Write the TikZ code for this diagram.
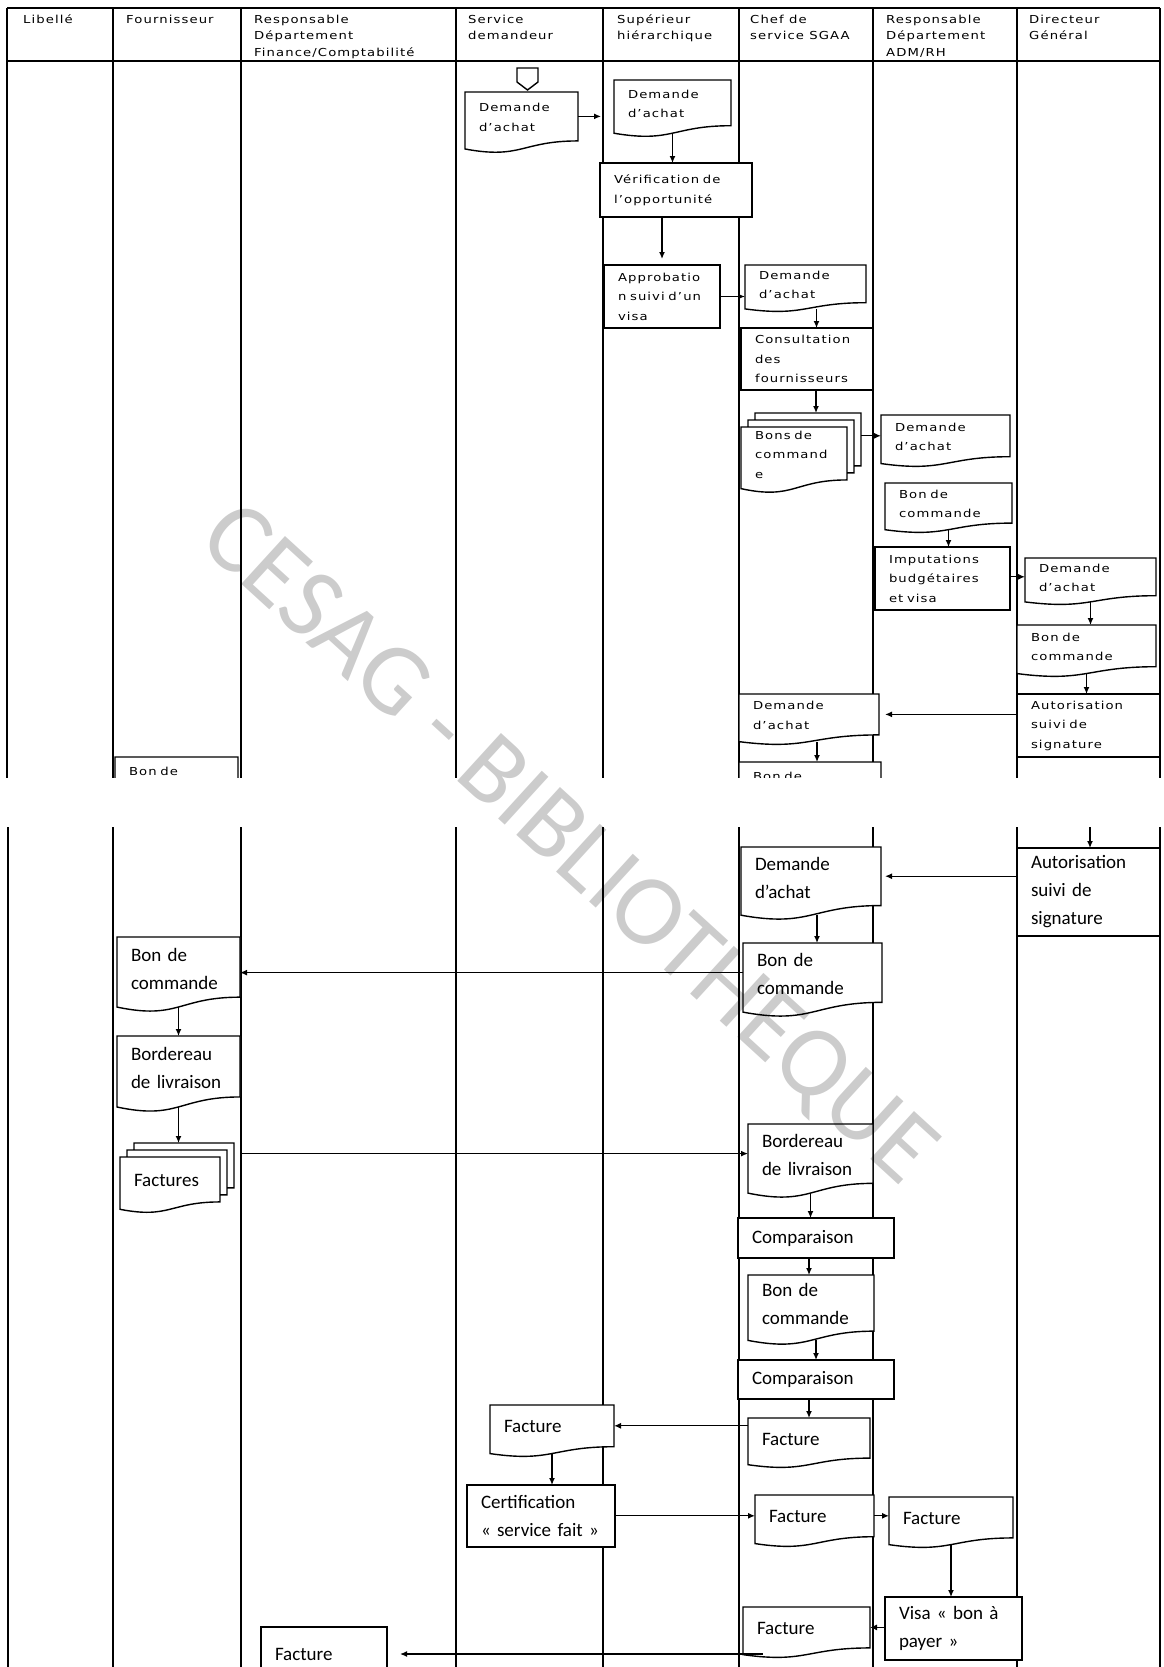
\documentclass[tikz,border=0pt]{standalone}
\usepackage{fontspec}
\usetikzlibrary{arrows.meta,calc}
\newfontfamily\topfont[FakeStretch=1.2,LetterSpace=10]{DejaVu Sans}
\newfontfamily\botfont{Carlito}

\makeatletter
% registers for the document-shaped nodes
\newdimen\dsL \newdimen\dsR \newdimen\dsT \newdimen\dsB
\newdimen\dsM \newdimen\dsH \newdimen\dsYr \newdimen\dsYc \newdimen\dsYl
\newdimen\mdoff \mdoff=7pt
\newdimen\mdofftwo \mdofftwo=14pt
\def\ds@box{%
  \southwest \dsL=\pgf@x \dsB=\pgf@y
  \northeast \dsR=\pgf@x \dsT=\pgf@y
  \dsH=\dsT \advance\dsH by -\dsB
  \dsM=.5\dsL \advance\dsM by .5\dsR
  \dsYr=.198\dsH \advance\dsYr by \dsB
  \dsYc=-.1075\dsH \advance\dsYc by \dsB
  \dsYl=.066\dsH \advance\dsYl by \dsB}
\def\ds@outline{%
  \pgfpathmoveto{\pgfqpoint{\dsL}{\dsT}}%
  \pgfpathlineto{\pgfqpoint{\dsR}{\dsT}}%
  \pgfpathlineto{\pgfqpoint{\dsR}{\dsYr}}%
  \pgfpathcurveto{\pgfqpoint{\dsM}{\dsYr}}{\pgfqpoint{\dsM}{\dsYc}}{\pgfqpoint{\dsL}{\dsYl}}%
  \pgfpathclose}
\def\ds@anchors{%
  \inheritsavedanchors[from=rectangle]%
  \inheritanchorborder[from=rectangle]%
  \inheritanchor[from=rectangle]{center}%
  \inheritanchor[from=rectangle]{north}%
  \inheritanchor[from=rectangle]{south}%
  \inheritanchor[from=rectangle]{east}%
  \inheritanchor[from=rectangle]{west}%
  \inheritanchor[from=rectangle]{north east}%
  \inheritanchor[from=rectangle]{north west}%
  \inheritanchor[from=rectangle]{south east}%
  \inheritanchor[from=rectangle]{south west}%
  \anchor{text}{\ds@box \pgf@x=0pt \pgf@y=.08\dsH}%
  \anchor{wr}{\ds@box \pgf@x=\dsR \pgf@y=.6\dsT \advance\pgf@y by .4\dsB}%
  \anchor{wl}{\ds@box \pgf@x=\dsL \pgf@y=.6\dsT \advance\pgf@y by .4\dsB}%
  \anchor{wb}{\ds@box \pgf@x=\dsM \pgf@y=.067\dsH \advance\pgf@y by \dsB}}
% single document
\pgfdeclareshape{docshape}{%
  \ds@anchors
  \backgroundpath{\ds@box \ds@outline}%
}
% stacked documents: two sheets behind, offset up and right
\pgfdeclareshape{multidocshape}{%
  \ds@anchors
  \backgroundpath{%
    \ds@box \ds@outline
    \pgfpathmoveto{\pgfpointadd{\pgfqpoint{\dsL}{\dsT}}{\pgfqpoint{\mdoff}{0pt}}}%
    \pgfpathlineto{\pgfpointadd{\pgfqpoint{\dsL}{\dsT}}{\pgfqpoint{\mdoff}{\mdoff}}}%
    \pgfpathlineto{\pgfpointadd{\pgfqpoint{\dsR}{\dsT}}{\pgfqpoint{\mdoff}{\mdoff}}}%
    \pgfpathlineto{\pgfpointadd{\pgfqpoint{\dsR}{\dsYr}}{\pgfqpoint{\mdoff}{\mdoff}}}%
    \pgfpathlineto{\pgfpointadd{\pgfqpoint{\dsR}{\dsYr}}{\pgfqpoint{0pt}{\mdoff}}}%
    \pgfpathmoveto{\pgfpointadd{\pgfqpoint{\dsL}{\dsT}}{\pgfqpoint{\mdofftwo}{\mdoff}}}%
    \pgfpathlineto{\pgfpointadd{\pgfqpoint{\dsL}{\dsT}}{\pgfqpoint{\mdofftwo}{\mdofftwo}}}%
    \pgfpathlineto{\pgfpointadd{\pgfqpoint{\dsR}{\dsT}}{\pgfqpoint{\mdofftwo}{\mdofftwo}}}%
    \pgfpathlineto{\pgfpointadd{\pgfqpoint{\dsR}{\dsYr}}{\pgfqpoint{\mdofftwo}{\mdofftwo}}}%
    \pgfpathlineto{\pgfpointadd{\pgfqpoint{\dsR}{\dsYr}}{\pgfqpoint{\mdoff}{\mdofftwo}}}%
  }%
}
\makeatother

\tikzset{
  lane/.style={line width=1.5pt},
  hdrline/.style={line width=2.8pt},
  shp/.style={draw, line width=1.4pt, fill=white, outer sep=0pt,
    inner xsep=14pt, inner ysep=2pt, align=left, anchor=north west},
  proc/.style={shp, shape=rectangle},
  doc/.style={shp, shape=docshape},
  mdoc/.style={shp, shape=multidocshape},
  sz/.style 2 args={minimum width=#1pt, minimum height=#2pt,
    /utils/exec={\pgfmathsetmacro\tw{#1-28}}, text width=\tw pt},
  ts/.style={font=\topfont\fontsize{11}{19.5}\selectfont},
  tb/.style={font=\botfont\fontsize{19}{28}\selectfont},
  hdr/.style={anchor=north west, inner sep=0pt, align=left,
    font=\topfont\fontsize{11}{16.5}\selectfont},
  flow/.style={draw, line width=1.3pt, -{Latex[length=7pt,width=6pt]}},
  wmark/.style={rotate=-42.4, inner sep=0pt, text=black, opacity=.2,
    font=\botfont\fontsize{101}{101}\selectfont},
}

\begin{document}
\begin{tikzpicture}[x=1pt,y=-1pt]
\useasboundingbox (0,0) rectangle (1163,1667);
\fill[white] (0,0) rectangle (1163,1667);

% ---------------- first page of the chart ----------------
\begin{scope}
\clip (0,0) rectangle (1163,777);
\draw[lane] (7,8) -- (1160,8);
\draw[hdrline] (7,61) -- (1160,61);
\foreach \x in {7,113,241,456,603,739,873,1017,1160}
  \draw[lane] (\x,8) -- (\x,790);

\node[hdr] (hLib)  at (23,14.5)   {Libellé};
\node[hdr] (hFou)  at (126,14.5)  {Fournisseur};
\node[hdr] (hFin)  at (254,14.5)  {Responsable\\Département\\Finance/Comptabilité};
\node[hdr] (hSD)   at (468,14.5)  {Service\\demandeur};
\node[hdr] (hSup)  at (617,14.5)  {Supérieur\\hiérarchique};
\node[hdr] (hChef) at (750,14.5)  {Chef de\\service SGAA};
\node[hdr] (hAdm)  at (886,14.5)  {Responsable\\Département\\ADM/RH};
\node[hdr] (hDG)   at (1029,14.5) {Directeur\\Général};

% off-page connector
\draw[line width=1.4pt, fill=white] (517,68) -- (538,68) -- (538,82) -- (527.5,90) -- (517,82) -- cycle;

\node[doc,ts,sz={113}{61}]  (sdDA)    at (465,92)   {Demande\\d’achat};
\node[doc,ts,sz={117}{57}]  (supDA)   at (614,80)   {Demande\\d’achat};
\node[proc,ts,sz={152}{54}] (verif)   at (600,163)  {Vérification de\\l’opportunité};
\node[proc,ts,sz={116}{63}] (approb)  at (604,265)  {Approbatio\\n suivi d’un\\visa};
\node[doc,ts,sz={121}{47}]  (chefDA)  at (745,265)  {Demande\\d’achat};
\node[proc,ts,sz={132}{62}] (consult) at (741,328)  {Consultation\\des\\fournisseurs};
\node[mdoc,ts,sz={106}{66}] (bons)    at (741,427)  {Bons de\\command\\e};
\node[doc,ts,sz={129}{52}]  (admDA)   at (881,415)  {Demande\\d’achat};
\node[doc,ts,sz={127}{50}]  (admBC)   at (885,483)  {Bon de\\commande};
\node[proc,ts,sz={135}{63}] (imput)   at (875,547)  {Imputations\\budgétaires\\et visa};
\node[doc,ts,sz={131}{47}]  (dgDA)    at (1025,558) {Demande\\d’achat};
\node[doc,ts,sz={139}{52}]  (dgBC)    at (1017,625) {Bon de\\commande};
\node[proc,ts,sz={143}{63}] (autorA)  at (1017,694) {Autorisation\\suivi de\\signature};
\node[doc,ts,sz={140}{51}]  (chefDB)  at (739,694)  {Demande\\d’achat};
\node[doc,ts,sz={142}{58}]  (chefBA)  at (739,762)  {Bon de\\commande};
\node[doc,ts,sz={123}{58}]  (fouBA)   at (115,757)  {Bon de\\commande};

\draw[flow, shorten >=13pt] (sdDA.wr) -- (supDA.wl |- sdDA.wr);
\draw[flow] (supDA.wb) -- (supDA.wb |- verif.north);
\draw[flow, shorten >=6pt] (approb.north |- verif.south) -- (approb.north);
\draw[flow] (approb.east) -- (approb.east -| chefDA.west);
\draw[flow] ($(chefDA.wb)+(11,0)$) -- ($(chefDA.wb |- consult.north)+(11,0)$);
\draw[flow, shorten >=14pt] ($(consult.south)+(9,0)$) -- ($(consult.south |- bons.north)+(9,0)$);
\draw[flow] ($(bons.east |- admDA.wl)+(14,0)$) -- (admDA.wl);
\draw[flow] (admBC.wb) -- (admBC.wb |- imput.north);
\draw[flow] (imput.east |- dgDA.wl) -- (dgDA.wl);
\draw[flow] (dgDA.wb) -- (dgDA.wb |- dgBC.north);
\draw[flow] (dgBC.wb) -- (dgBC.wb |- autorA.north);
\draw[flow, shorten >=6pt] (autorA.west |- chefDB.wr) -- (chefDB.wr);
\draw[flow] ($(chefDB.wb)+(8,0)$) -- ($(chefDB.wb |- chefBA.north)+(8,0)$);
\end{scope}

% ---------------- second page of the chart ----------------
\begin{scope}
\clip (0,800) rectangle (1163,1667);
\foreach \x in {8,113,241,456,603,739,873,1017,1160}
  \draw[lane] (\x,827) -- (\x,1667);

\node[proc,tb,sz={143}{88}] (autorB) at (1017,848)  {Autorisation\\suivi de\\signature};
\node[doc,tb,sz={140}{73}]  (chefDC) at (741,847)   {Demande\\d’achat};
\node[doc,tb,sz={139}{74}]  (chefBB) at (743,943)   {Bon de\\commande};
\node[doc,tb,sz={123}{75}]  (fouBB)  at (117,937)   {Bon de\\commande};
\node[doc,tb,sz={123}{76}]  (fouBL)  at (117,1036)  {Bordereau\\de livraison};
\node[mdoc,tb,sz={100}{56}] (facts)  at (120,1157)  {Factures};
\node[doc,tb,sz={125}{74}]  (chefBL) at (748,1124)  {Bordereau\\de livraison};
\node[proc,tb,sz={156}{40}] (compA)  at (738,1218)  {Comparaison};
\node[doc,tb,sz={126}{70}]  (chefBC) at (748,1275)  {Bon de\\commande};
\node[proc,tb,sz={156}{39}] (compB)  at (738,1360)  {Comparaison};
\node[doc,tb,sz={122}{50}]  (chefFA) at (748,1418)  {Facture};
\node[doc,tb,sz={124}{52}]  (sdF)    at (490,1405)  {Facture};
\node[proc,tb,sz={148}{62}] (cert)   at (467,1485)  {Certification\\« service fait »};
\node[doc,tb,sz={119}{52}]  (chefFB) at (755,1495)  {Facture};
\node[doc,tb,sz={124}{51}]  (admF)   at (889,1497)  {Facture};
\node[proc,tb,sz={137}{63}] (visa)   at (885,1597)  {Visa « bon à\\payer »};
\node[doc,tb,sz={127}{51}]  (chefFC) at (743,1607)  {Facture};
\node[proc,tb,sz={126}{54}] (finF)   at (261,1627)  {Facture};

\coordinate (cont) at (1090,827);
\draw[flow] (cont) -- (cont |- autorB.north);
\draw[flow, shorten >=4pt] (autorB.west |- chefDC.wr) -- (chefDC.wr);
\draw[flow] ($(chefDC.wb)+(6,0)$) -- ($(chefDC.wb |- chefBB.north)+(6,0)$);
\draw[flow] (chefBB.wl) -- (chefBB.wl -| fouBB.east);
\draw[flow] (fouBB.wb) -- (fouBB.wb |- fouBL.north);
\draw[flow, shorten >=14pt] (fouBL.wb) -- (fouBL.wb |- facts.north);
\draw[flow] ($(facts.east |- chefBL.wl)+(20,0)$) -- (chefBL.wl);
\draw[flow] (chefBL.wb) -- (chefBL.wb |- compA.north);
\draw[flow] ($(compA.south)+(-7,0)$) -- ($(compA.south |- chefBC.north)+(-7,0)$);
\draw[flow] ($(chefBC.wb)+(5,0)$) -- ($(chefBC.wb |- compB.north)+(5,0)$);
\draw[flow] ($(compB.south)+(-7,0)$) -- ($(compB.south |- chefFA.north)+(-7,0)$);
\draw[flow] (chefFA.west |- sdF.wr) -- (sdF.wr);
\draw[flow] (sdF.wb) -- (sdF.wb |- cert.north);
\draw[flow] (cert.east |- chefFB.wl) -- (chefFB.wl);
\draw[flow] (chefFB.wr) -- (chefFB.wr -| admF.west);
\draw[flow] (admF.wb) -- (admF.wb |- visa.north);
\draw[flow] (visa.west |- chefFC.wr) -- (chefFC.wr);
\draw[flow, shorten >=13pt] ($(chefFC.south west |- finF.east)+(20,0)$) -- (finF.east);
\end{scope}

% library stamp across the sheet
\node[wmark] (stamp) at (567,846) {CESAG - BIBLIOTHEQUE};
\end{tikzpicture}
\end{document}
